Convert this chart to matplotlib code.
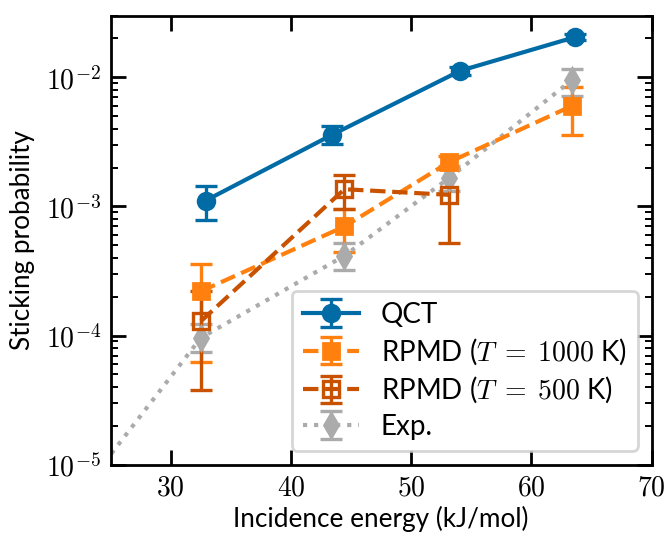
import numpy as np
import matplotlib
matplotlib.use('Agg')
import matplotlib.pyplot as plt
from matplotlib.ticker import FuncFormatter, LogLocator, FixedLocator

plt.rcParams['font.family'] = ['Lato', 'DejaVu Sans']
plt.rcParams['mathtext.fontset'] = 'cm'

# QCT
qct_x = [32.9, 43.45, 54.1, 63.65]
qct_y = [1.11e-3, 3.6e-3, 1.125e-2, 2.05e-2]
qct_lo = [7.8e-4, 3.03e-3, 1.04e-2, 1.95e-2]
qct_hi = [1.43e-3, 4.2e-3, 1.21e-2, 2.15e-2]

# RPMD T = 1000 K
r1000_x = [32.5, 44.45, 53.15, 63.37]
r1000_y = [2.2e-4, 7.0e-4, 2.2e-3, 6.0e-3]
r1000_lo = [6.25e-5, 4.4e-4, 1.95e-3, 3.58e-3]
r1000_hi = [3.6e-4, 9.6e-4, 2.45e-3, 8.45e-3]

# RPMD T = 500 K
r500_x = [32.5, 44.45, 53.15]
r500_y = [1.29e-4, 1.36e-3, 1.23e-3]
r500_lo = [3.77e-5, 9.6e-4, 5.2e-4]
r500_hi = [2.2e-4, 1.74e-3, 1.95e-3]

# experiment (first point lies outside the plotted range)
exp_x = [20.0, 32.5, 44.45, 53.15, 63.37]
exp_y = [3e-6, 9.6e-5, 4.15e-4, 1.66e-3, 9.5e-3]
exp_lo = [3e-6, 7.45e-5, 3.2e-4, 1.31e-3, 7.16e-3]
exp_hi = [3e-6, 1.22e-4, 5.2e-4, 2.05e-3, 1.15e-2]


def yerr(y, lo, hi):
    y = np.array(y)
    return [y - np.array(lo), np.array(hi) - y]


blue = '#006BA4'
orange = '#FF800E'
dark = '#C85200'
gray = '#ABABAB'

fig = plt.figure(figsize=(3.34, 2.68), dpi=200)
ax = fig.add_axes([0.1657, 0.133, 0.8096, 0.8377])

kw = dict(lw=1.5, ms=6, capsize=4, capthick=1.2, elinewidth=1.2)

h_exp = ax.errorbar(exp_x, exp_y, yerr=yerr(exp_y, exp_lo, exp_hi), color=gray,
                    ls=':', marker='d', **kw)
h_qct = ax.errorbar(qct_x, qct_y, yerr=yerr(qct_y, qct_lo, qct_hi), color=blue,
                    ls='-', marker='o', **kw)
h_1000 = ax.errorbar(r1000_x, r1000_y, yerr=yerr(r1000_y, r1000_lo, r1000_hi), color=orange,
                     ls='--', marker='s', **kw)
h_500 = ax.errorbar(r500_x, r500_y, yerr=yerr(r500_y, r500_lo, r500_hi), color=dark,
                    ls='--', marker='s', mfc='none', mew=1.2, **kw)

ax.set_yscale('log')
ax.set_xlim(25, 70)
ax.set_ylim(1e-5, 3e-2)

ax.xaxis.set_major_locator(FixedLocator([30, 40, 50, 60, 70]))
ax.xaxis.set_major_formatter(FuncFormatter(lambda v, p: f'${v:g}$'))
ax.yaxis.set_major_locator(LogLocator(base=10))
ax.yaxis.set_minor_locator(LogLocator(base=10, subs=np.arange(2, 10)))
ax.yaxis.set_major_formatter(FuncFormatter(lambda v, p: f'$10^{{{int(round(np.log10(v)))}}}$'))

ax.tick_params(which='both', direction='in', top=True, right=True, labelsize=10)
ax.tick_params(which='major', length=5.5, width=1)
ax.tick_params(which='minor', length=2.5, width=0.7)
for s in ax.spines.values():
    s.set_linewidth(1)

ax.set_xlabel('Incidence energy (kJ/mol)', fontsize=9.4, labelpad=2)
ax.set_ylabel('Sticking probability', fontsize=9.4, labelpad=4)

ax.legend([h_qct, h_1000, h_500, h_exp],
          ['QCT', r'RPMD ($T\;=\;1000$ K)', r'RPMD ($T\;=\;500$ K)', 'Exp.'],
          loc='lower right', fontsize=10, labelspacing=0.3)

fig.savefig('out.png', dpi=200)
